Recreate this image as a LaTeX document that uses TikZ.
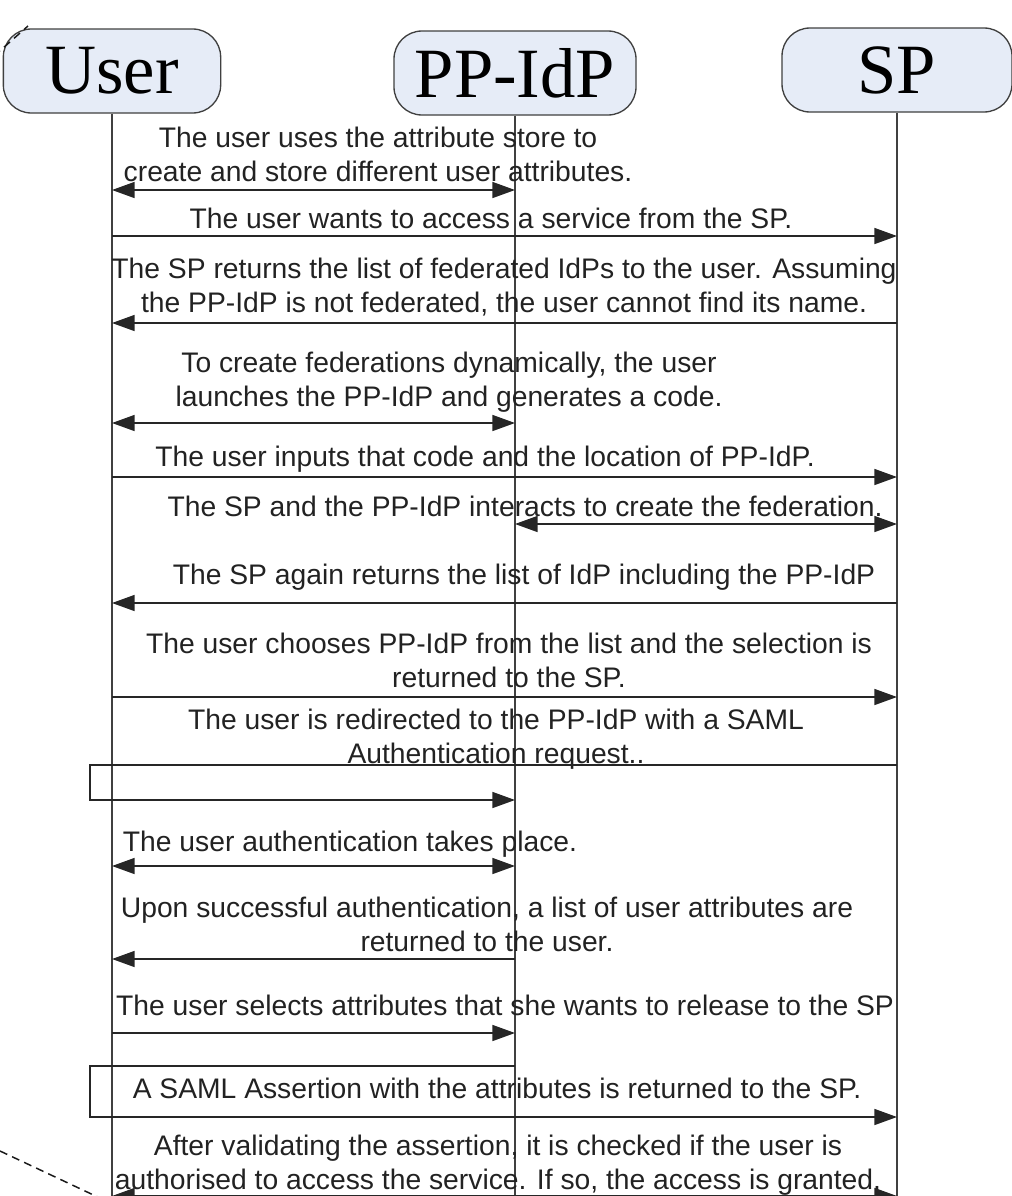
\documentclass[tikz,border=0pt]{standalone}
\usepackage{fontspec}
\setmainfont{Liberation Serif}
\setsansfont{Liberation Sans}
\usetikzlibrary{arrows.meta}
\definecolor{HeadFill}{HTML}{E6ECF7}
\definecolor{Ink}{HTML}{222222}

\begin{document}
\begin{tikzpicture}[x=0.75pt,y=-0.75pt,
  head/.style={draw=black!75,fill=HeadFill,rounded corners=21pt,line width=1pt,minimum height=63pt,inner sep=0pt,font=\rmfamily\fontsize{53}{60}\selectfont},
  life/.style={draw=black!75,line width=1.2pt},
  msg/.style={draw=black!85,line width=1.2pt},
  one/.style={msg,-{Triangle[length=17pt,width=12pt]}},
  both/.style={msg,{Triangle[length=17pt,width=12pt]}-{Triangle[length=17pt,width=12pt]}},
  txt/.style={font=\sffamily\fontsize{21.2}{25.5}\selectfont,text=Ink,align=center,anchor=base,inner sep=0pt},
  outline/.style={draw=black!90,line width=1.1pt,dash pattern=on 6pt off 4pt}]
\useasboundingbox (0,0) rectangle (1011,1196);
% actors
\node[head,minimum width=163pt] (user) at (112,71) {\raisebox{-2pt}{User}};
\node[head,minimum width=181.5pt] (idp) at (515,73) {\raisebox{-2pt}{PP-IdP}};
\node[head,minimum width=172.5pt] (sp) at (897,70) {\raisebox{-2pt}{SP}};
\coordinate (bot) at (0,1196);
\draw[life] (user.south) -- (user.south |- bot);
\draw[life] (idp.south) -- (idp.south |- bot);
\draw[life] (sp.south) -- (sp.south |- bot);
% message levels
\coordinate (y1) at (0,190);
\coordinate (y2) at (0,236);
\coordinate (y3) at (0,323);
\coordinate (y4) at (0,423);
\coordinate (y5) at (0,477);
\coordinate (y6) at (0,524);
\coordinate (y7) at (0,603);
\coordinate (y8) at (0,697);
\coordinate (y9) at (0,765);
\coordinate (y9b) at (0,800);
\coordinate (y10) at (0,866);
\coordinate (y11) at (0,959);
\coordinate (y12) at (0,1033);
\coordinate (y13) at (0,1066);
\coordinate (y13b) at (0,1117);
\coordinate (y14) at (0,1196);
\coordinate (loop) at (90,0);
% labels (base = last line)
\node[txt] (t1) at (378,181) {The user uses the attribute store to\\create and store different user attributes.};
\node[txt] (t2) at (491,228) {The user wants to access a service from the SP.};
\node[txt] (t3) at (504,312) {The SP returns the list of federated IdPs to the user. Assuming\\the PP-IdP is not federated, the user cannot find its name.};
\node[txt] (t4) at (449,406) {To create federations dynamically, the user\\launches the PP-IdP and generates a code.};
\node[txt] (t5) at (485,466) {The user inputs that code and the location of PP-IdP.};
\node[txt] (t6) at (525,516) {The SP and the PP-IdP interacts to create the federation.};
\node[txt] (t7) at (524,584) {The SP again returns the list of IdP including the PP-IdP};
\node[txt] (t8) at (509,687) {The user chooses PP-IdP from the list and the selection is\\returned to the SP.};
\node[txt] (t9) at (496,763) {The user is redirected to the PP-IdP with a SAML\\Authentication request..};
\node[txt] (t10) at (350,851) {The user authentication takes place.};
\node[txt] (t11) at (487,951) {Upon successful authentication, a list of user attributes are\\returned to the user.};
\node[txt] (t12) at (505,1015) {The user selects attributes that she wants to release to the SP};
\node[txt] (t13) at (497,1098) {A SAML Assertion with the attributes is returned to the SP.};
\node[txt] (t14) at (498,1189) {After validating the assertion, it is checked if the user is\\authorised to access the service. If so, the access is granted.};
% messages
\draw[both] (user |- y1) -- (idp |- y1);
\draw[one] (user |- y2) -- (sp |- y2);
\draw[one] (sp |- y3) -- (user |- y3);
\draw[both] (user |- y4) -- (idp |- y4);
\draw[one] (user |- y5) -- (sp |- y5);
\draw[both] (idp |- y6) -- (sp |- y6);
\draw[one] (sp |- y7) -- (user |- y7);
\draw[one] (user |- y8) -- (sp |- y8);
\draw[one] (sp |- y9) -- (loop |- y9) -- (loop |- y9b) -- (idp |- y9b);
\draw[both] (user |- y10) -- (idp |- y10);
\draw[one] (idp |- y11) -- (user |- y11);
\draw[one] (user |- y12) -- (idp |- y12);
\draw[one] (idp |- y13) -- (loop |- y13) -- (loop |- y13b) -- (sp |- y13b);
\draw[both] (user |- y14) -- (sp |- y14);
% cropped dashed outline
\coordinate (d1) at (-6,56);
\coordinate (d2) at (28,26);
\coordinate (d3) at (0,1151);
\coordinate (d4) at (102,1199);
\draw[outline] (d1) -- (d2);
\draw[outline] (d3) -- (d4);
\end{tikzpicture}
\end{document}
